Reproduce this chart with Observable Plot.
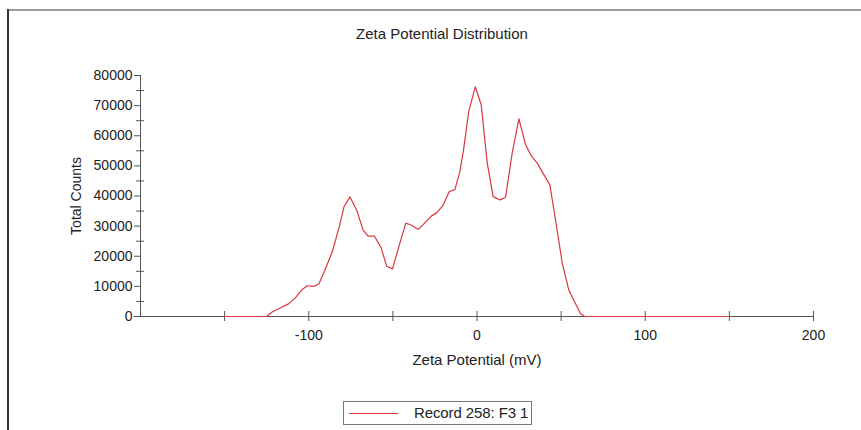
<!DOCTYPE html>
<html>
<head>
<meta charset="utf-8">
<script src="https://cdn.jsdelivr.net/npm/d3@7"></script>
<script src="https://cdn.jsdelivr.net/npm/@observablehq/plot@0.6"></script>
<style>
  html, body { margin: 0; padding: 0; background: #fff; }
  #wrap { position: relative; width: 861px; height: 430px; overflow: hidden; font-family: "Liberation Sans", Arial, Helvetica, sans-serif; }
  #wrap svg { position: absolute; left: 0; top: 0; }
  .frameTop { position: absolute; left: 8px; top: 9px; width: 853px; height: 0; border-top: 2px solid #9a9a9a; }
  .frameLeft { position: absolute; left: 7px; top: 9px; width: 0; height: 421px; border-left: 2px solid #333; }
  .title { position: absolute; top: 25px; left: 292px; width: 300px; text-align: center; font-size: 15px; color: #222; white-space: nowrap; }
  .legend { position: absolute; left: 343px; top: 401px; width: 187px; height: 22px; border: 1px solid #777; box-sizing: content-box; font-size: 15px; color: #222; }
  .legend .sw { position: absolute; left: 5px; top: 11px; width: 49px; height: 0; border-top: 1px solid #d9363e; }
  .legend .lab { position: absolute; left: 70px; top: 2px; white-space: nowrap; letter-spacing: -0.1px; }
</style>
</head>
<body>
<div id="wrap">
  <div class="frameTop"></div>
  <div class="frameLeft"></div>
  <div class="title">Zeta Potential Distribution</div>
  <div class="legend"><div class="sw"></div><div class="lab">Record 258: F3 1</div></div>
</div>
<script>
// Data
const zeta = [-150, -125, -122, -117, -112, -108, -104, -101, -97, -94, -90.5, -86, -82, -79, -75.5, -71.5, -67.7, -64.7, -61, -57, -53.7, -50.2, -46.2, -42.3, -38.9, -34.9, -31, -27, -24, -20.4, -16.5, -13.1, -10.2, -8, -4.9, -1, 2.5, 6.1, 9.6, 13.6, 17, 20.9, 24.9, 28.9, 32.3, 35.8, 39.8, 43.3, 46.7, 50.7, 54.6, 58.6, 61.6, 64, 150];
const counts = [0, 0, 1400, 2800, 4200, 6200, 8900, 10200, 10000, 10800, 15300, 21500, 29500, 36500, 39700, 35300, 28700, 26700, 26700, 22800, 16700, 15800, 23700, 31000, 30300, 28900, 31100, 33400, 34400, 36700, 41400, 42200, 48000, 55300, 68100, 76200, 70300, 50900, 39800, 38700, 39600, 54200, 65600, 57000, 53300, 50900, 47000, 43700, 32000, 17600, 8700, 4200, 900, 0, 0];
const xTickLabels = [-100, 0, 100, 200];
const xTicks = [-150, -100, -50, 0, 50, 100, 150, 200];
const yTickLabels = [0, 10000, 20000, 30000, 40000, 50000, 60000, 70000, 80000];
const yMinorTicks = [5000, 15000, 25000, 35000, 45000, 55000, 65000, 75000];
const seriesName = "Record 258: F3 1";

const data = zeta.map((z, i) => ({zeta: z, count: counts[i]}));
const axisColor = "#555";

const chart = Plot.plot({
  width: 861,
  height: 430,
  marginLeft: 140,
  marginRight: 48,
  marginTop: 75,
  marginBottom: 114,
  style: {fontFamily: "'Liberation Sans', Arial, Helvetica, sans-serif", fontSize: "14px", color: "#222", background: "transparent", overflow: "visible"},
  x: {domain: [-200, 200]},
  y: {domain: [0, 80000]},
  marks: [
    Plot.ruleY([0], {stroke: axisColor}),
    Plot.ruleX([-200], {stroke: axisColor}),
    Plot.axisY({ticks: yTickLabels, tickSize: 6, tickPadding: 2, tickFormat: d => String(d), label: null, stroke: axisColor}),
    Plot.axisY({ticks: yMinorTicks, tickSize: 8, dx: 4, tickFormat: () => "", label: null, stroke: axisColor}),
    Plot.axisX({ticks: xTicks, tickSize: 10, dy: -5, tickFormat: () => "", label: null, stroke: axisColor}),
    Plot.axisX({ticks: xTickLabels, tickSize: 0, tickPadding: 14, tickFormat: d => String(d), label: null}),
    Plot.line(data, {x: "zeta", y: "count", stroke: "#d9363e", strokeWidth: 1.2}),
    Plot.text(["Total Counts"], {frameAnchor: "left", textAnchor: "middle", lineAnchor: "middle", dx: -64, rotate: -90, fill: "#222", fontSize: 14}),
    Plot.text(["Zeta Potential (mV)"], {frameAnchor: "bottom", lineAnchor: "middle", dy: 44, fill: "#222", fontSize: 15})
  ]
});
document.getElementById("wrap").prepend(chart);
</script>
</body>
</html>
